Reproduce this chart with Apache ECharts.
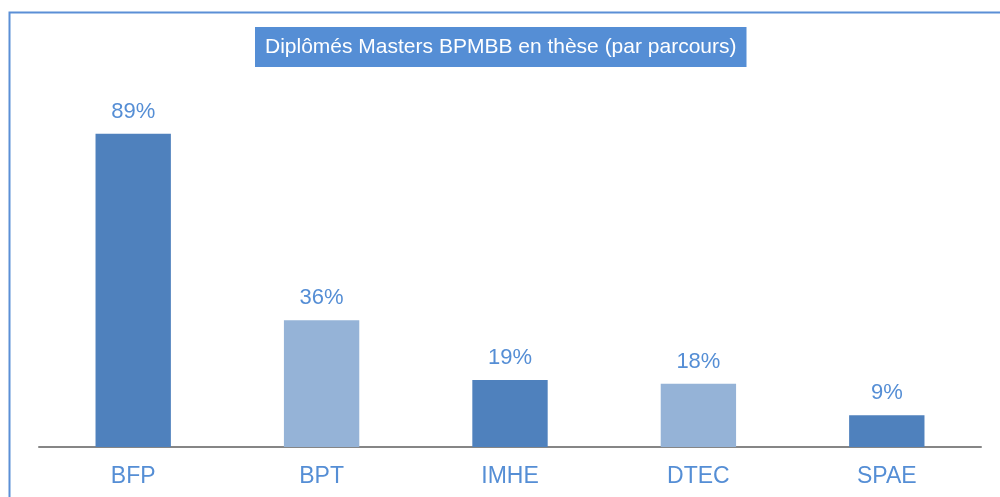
<!DOCTYPE html>
<html>
<head>
<meta charset="utf-8">
<script src="https://cdn.jsdelivr.net/npm/echarts@6/dist/echarts.min.js"></script>
<style>
  html, body { margin: 0; padding: 0; background: #fff; }
  #chart { width: 1000px; height: 497px; }
</style>
</head>
<body>
<div id="chart"></div>
<script>
// data
const categories = ['BFP', 'BPT', 'IMHE', 'DTEC', 'SPAE'];
const values = [89, 36, 19, 18, 9];
const barColors = ['#4F81BD', '#95B3D7', '#4F81BD', '#95B3D7', '#4F81BD'];

const chart = echarts.init(document.getElementById('chart'));

const option = {
  backgroundColor: '#fff',
  textStyle: { fontFamily: 'Liberation Sans, Arial, sans-serif' },
  title: {
    text: 'Diplômés Masters BPMBB en thèse (par parcours)',
    left: 255,
    top: 27,
    backgroundColor: '#558ED5',
    padding: [10, 10, 9, 10],
    textStyle: {
      color: '#fff',
      fontSize: 21,
      fontWeight: 'normal',
      fontFamily: 'Liberation Sans, Arial, sans-serif'
    }
  },
  graphic: [
    {
      type: 'rect',
      shape: { x: 9.5, y: 12.5, width: 1200, height: 700 },
      style: { fill: 'none', stroke: '#5B8FD6', lineWidth: 2 },
      silent: true
    }
  ],
  grid: { left: 39, right: 19, top: 95, bottom: 50 },
  xAxis: {
    type: 'category',
    data: categories,
    axisLine: { lineStyle: { color: '#868686', width: 2 } },
    axisTick: { show: false },
    axisLabel: {
      color: '#558ED5',
      fontSize: 23,
      margin: 18
    }
  },
  yAxis: {
    type: 'value',
    min: 0,
    max: 100,
    show: false,
    splitLine: { show: false }
  },
  series: [
    {
      type: 'bar',
      barWidth: '40%',
      data: values.map((v, i) => ({ value: v, itemStyle: { color: barColors[i] } })),
      label: {
        show: true,
        position: 'top',
        distance: 11,
        formatter: '{c}%',
        color: '#558ED5',
        fontSize: 22
      }
    }
  ]
};

chart.setOption(option);
</script>
</body>
</html>
